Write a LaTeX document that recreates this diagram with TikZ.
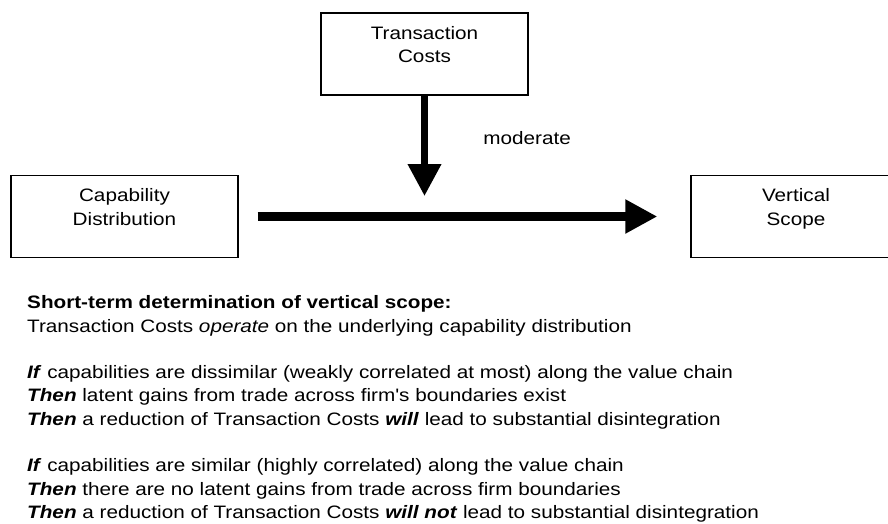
\documentclass[tikz,border=0pt]{standalone}
\usepackage{fontspec}
\usetikzlibrary{arrows.meta,positioning}
\newfontfamily\figfont[FakeStretch=1.15]{Liberation Sans}

\begin{document}
\begin{tikzpicture}[
 x=1pt, y=-1pt,
 font=\figfont\fontsize{18}{23.3}\selectfont,
 box/.style={rectangle, draw, line width=1.3pt, align=center, minimum height=82pt, text depth=19pt},
 bigarrow/.style={-{Triangle[width=32pt,length=32pt]}},
 explain/.style={align=left, inner sep=0pt, anchor=north west}
]
\useasboundingbox (0,0) rectangle (888,523);
\clip (0,0) rectangle (888,523);

% Boxes
\node[box, minimum width=207pt] (tc) at (424.5,54) {Transaction\\Costs};
\node[box, minimum width=227pt] (cap) at (124.5,216.5) {Capability\\Distribution};
\node[box, minimum width=210pt] (vs) at (796,216.5) {Vertical\\Scope};

% Arrows
\coordinate (mod) at (424.5,196);
\draw[bigarrow, line width=7pt] (tc) -- (mod) node[pos=0.42, right=52pt] (modlabel) {moderate};
\draw[bigarrow, line width=9pt] ([xshift=19pt]cap.east) -- ([xshift=-33pt]vs.west);

% Explanation
\node[explain] (expl) at (27,295.5) {\textbf{Short-term determination of vertical scope:}\\
Transaction Costs \textit{operate} on the underlying capability distribution\\[23.3pt]
\textbf{\textit{If}} capabilities are dissimilar (weakly correlated at most) along the value chain\\
\textbf{\textit{Then}} latent gains from trade across firm's boundaries exist\\
\textbf{\textit{Then}} a reduction of Transaction Costs \textbf{\textit{will}} lead to substantial disintegration\\[23.3pt]
\textbf{\textit{If}} capabilities are similar (highly correlated) along the value chain\\
\textbf{\textit{Then}} there are no latent gains from trade across firm boundaries\\
\textbf{\textit{Then}} a reduction of Transaction Costs \textbf{\textit{will not}} lead to substantial disintegration};

\end{tikzpicture}
\end{document}
